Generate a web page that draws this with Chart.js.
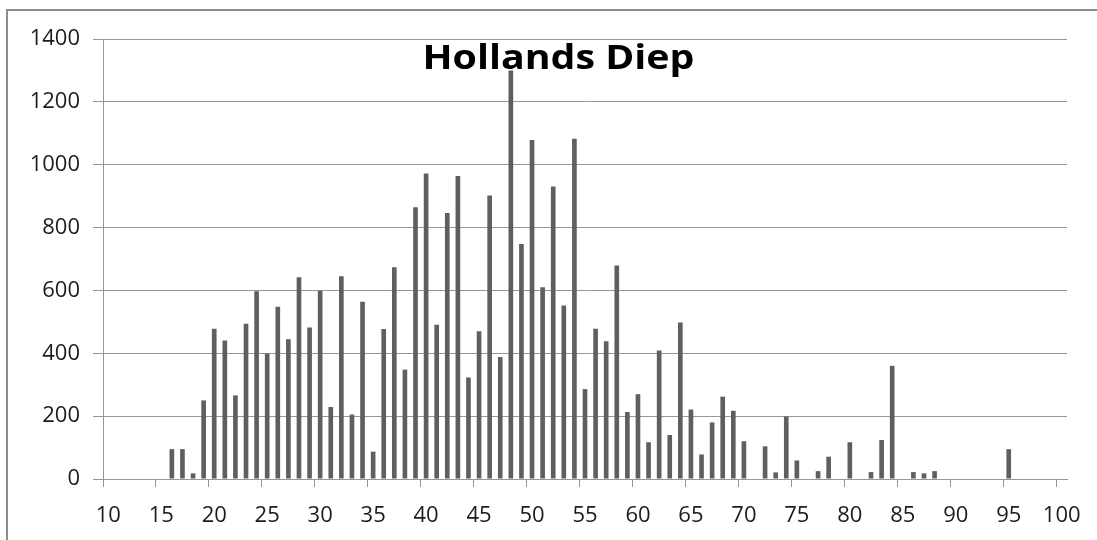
<!DOCTYPE html>
<html>
<head>
<meta charset="utf-8">
<script src="https://cdn.jsdelivr.net/npm/chart.js@4/dist/chart.umd.min.js"></script>
<style>
html,body{margin:0;padding:0;background:#fff;overflow:hidden;}
#frame{position:absolute;left:6px;top:9px;width:1300px;height:800px;border-left:2px solid #8c8c8c;border-top:2px solid #8c8c8c;}
#wrap{position:absolute;left:0;top:0;width:1097px;height:540px;}
</style>
</head>
<body>
<div id="frame"></div>
<div id="wrap"><canvas id="c" width="1097" height="540"></canvas></div>
<script>
const titleText = 'Hollands Diep';

const categories = [
  10, 11, 12, 13, 14, 15, 16, 17, 18, 19,
  20, 21, 22, 23, 24, 25, 26, 27, 28, 29,
  30, 31, 32, 33, 34, 35, 36, 37, 38, 39,
  40, 41, 42, 43, 44, 45, 46, 47, 48, 49,
  50, 51, 52, 53, 54, 55, 56, 57, 58, 59,
  60, 61, 62, 63, 64, 65, 66, 67, 68, 69,
  70, 71, 72, 73, 74, 75, 76, 77, 78, 79,
  80, 81, 82, 83, 84, 85, 86, 87, 88, 89,
  90, 91, 92, 93, 94, 95, 96, 97, 98, 99,
  100
];

const counts = [
  0, 0, 0, 0, 0, 0, 95, 95, 18, 250,
  478, 441, 266, 494, 597, 399, 548, 445, 642, 482,
  599, 229, 645, 205, 564, 87, 477, 674, 348, 865,
  972, 491, 846, 964, 323, 470, 902, 388, 1300, 748,
  1079, 610, 931, 552, 1083, 286, 478, 438, 679, 213,
  270, 117, 409, 140, 498, 221, 78, 180, 262, 217,
  120, 0, 104, 21, 199, 59, 0, 25, 71, 0,
  117, 0, 22, 124, 360, 0, 22, 18, 25, 0,
  0, 0, 0, 0, 0, 95, 0, 0, 0, 0,
  0
];

const xLabelValues = [10, 15, 20, 25, 30, 35, 40, 45, 50, 55, 60, 65, 70, 75, 80, 85, 90, 95, 100];
const yTickValues = [0, 200, 400, 600, 800, 1000, 1200, 1400];

const axisGray = '#979797';
const barGray = '#5f5f5f';
const textColor = '#1c1c1c';

const overlayTitle = {
  id: 'overlayTitle',
  afterDatasetsDraw(chart) {
    const ctx = chart.ctx;
    ctx.save();
    ctx.font = 'bold 34px "Open Sans"';
    const w = ctx.measureText(titleText).width;
    ctx.translate(558.5, 69);
    ctx.scale(272 / w, 1);
    ctx.textAlign = 'center';
    ctx.textBaseline = 'alphabetic';
    ctx.fillStyle = '#000';
    ctx.fillText(titleText, 0, 0);
    ctx.restore();
  }
};

new Chart(document.getElementById('c'), {
  type: 'bar',
  data: {
    labels: categories,
    datasets: [{
      data: counts,
      backgroundColor: barGray,
      borderWidth: 0,
      barPercentage: 0.44,
      categoryPercentage: 1
    }]
  },
  options: {
    responsive: false,
    animation: false,
    devicePixelRatio: 1,
    layout: { padding: { left: 0, top: 39, right: 30, bottom: 0 } },
    plugins: { legend: { display: false }, tooltip: { enabled: false }, title: { display: false } },
    scales: {
      x: {
        offset: true,
        grid: {
          offset: true,
          drawOnChartArea: false,
          drawTicks: true,
          tickLength: 8,
          lineWidth: 1,
          color: (c) => (c.index % 5 === 0 && c.index < categories.length) ? axisGray : 'rgba(0,0,0,0)'
        },
        border: { display: true, color: axisGray, width: 1 },
        ticks: {
          autoSkip: false,
          maxRotation: 0,
          minRotation: 0,
          padding: 16,
          color: textColor,
          font: { family: 'Open Sans', size: 22 },
          callback: (v, i) => xLabelValues.includes(categories[i]) ? String(categories[i]) : ''
        },
        afterFit: (s) => { s.height = 61; }
      },
      y: {
        min: yTickValues[0],
        max: yTickValues[yTickValues.length - 1],
        afterBuildTicks: (s) => { s.ticks = yTickValues.map(v => ({ value: v })); },
        grid: { color: axisGray, lineWidth: 1, tickLength: 10 },
        border: { display: true, color: axisGray, width: 1 },
        ticks: {
          padding: 13,
          color: textColor,
          font: { family: 'Open Sans', size: 22 },
          callback: (v) => String(v)
        },
        afterFit: (s) => { s.width = 103; }
      }
    }
  },
  plugins: [overlayTitle]
});
</script>
</body>
</html>
